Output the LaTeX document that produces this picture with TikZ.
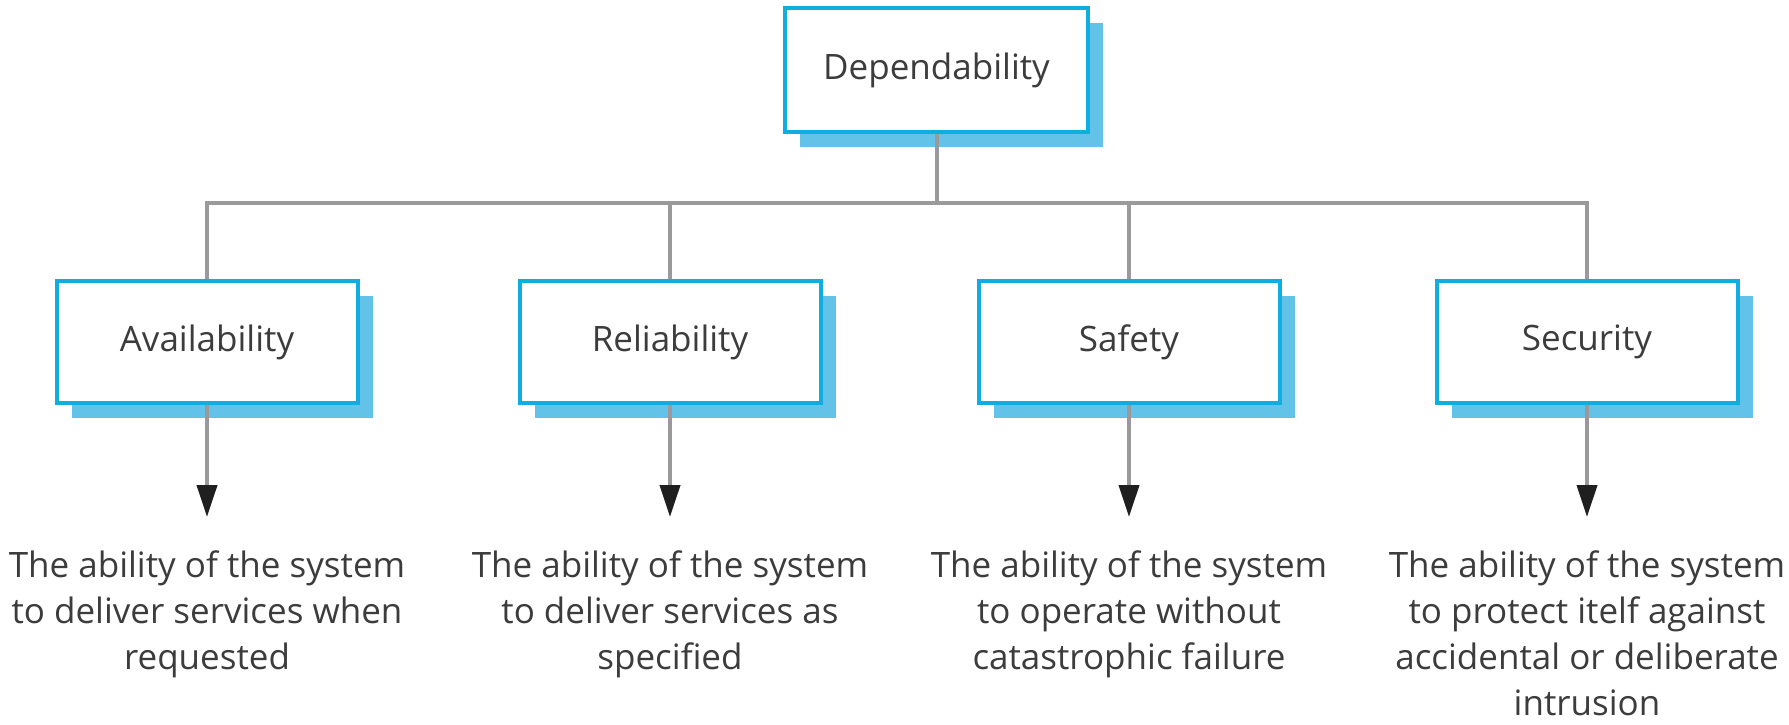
\documentclass[tikz,border=0pt]{standalone}
\usepackage{fontspec}
\setmainfont{Open Sans}
\usetikzlibrary{arrows.meta,shadows}
\definecolor{boxblue}{HTML}{10AEE0}
\definecolor{shadowblue}{HTML}{62C2E8}
\definecolor{conngray}{HTML}{9A9A9A}
\definecolor{txtgray}{HTML}{3C3C3C}
\begin{document}
\begin{tikzpicture}[x=1pt,y=-1pt,
  boxnode/.style={draw=boxblue, line width=4pt, fill=white, text=txtgray,
    minimum width=301pt, minimum height=122pt, inner sep=0pt,
    font=\fontsize{35}{42}\selectfont,
    copy shadow={shadow xshift=15pt, shadow yshift=-15pt, fill=shadowblue, draw=none}},
  conn/.style={draw=conngray, line width=4pt},
  arr/.style={conn, -{Triangle[length=32pt,width=20pt,color=black!88]}},
  desc/.style={anchor=north, align=center, inner sep=0pt, text=txtgray,
    font=\fontsize{35}{46}\selectfont}
]
\useasboundingbox (0,0) rectangle (1789,724);

\node[boxnode, minimum width=303pt, minimum height=124pt] (top) at (936.5,70) {Dependability};

\node[boxnode] (av) at (207,342) {Availability};
\node[boxnode] (re) at (670,342) {Reliability};
\node[boxnode] (sa) at (1129,342) {Safety};
\node[boxnode] (se) at (1587,342) {Security};

\coordinate (bus) at (931,203);
\draw[conn] (top.south) -- (top.south |- bus);
\draw[conn] (av.north) -- (av.north |- bus) -| (se.north);
\draw[conn] (re.north) -- (re.north |- bus);
\draw[conn] (sa.north) -- (sa.north |- bus);

\node[desc] (dav) at (207,551) {The ability of the system\\to deliver services when\\requested};
\node[desc] (dre) at (670,551) {The ability of the system\\to deliver services as\\specified};
\node[desc] (dsa) at (1129,551) {The ability of the system\\to operate without\\catastrophic failure};
\node[desc] (dse) at (1587,551) {The ability of the system\\to protect itelf against\\accidental or deliberate\\intrusion};

\coordinate (eav) at (207,517);
\coordinate (ere) at (670,517);
\coordinate (esa) at (1129,517);
\coordinate (ese) at (1587,517);
\draw[arr] (av.south) -- (eav);
\draw[arr] (re.south) -- (ere);
\draw[arr] (sa.south) -- (esa);
\draw[arr] (se.south) -- (ese);
\end{tikzpicture}
\end{document}
